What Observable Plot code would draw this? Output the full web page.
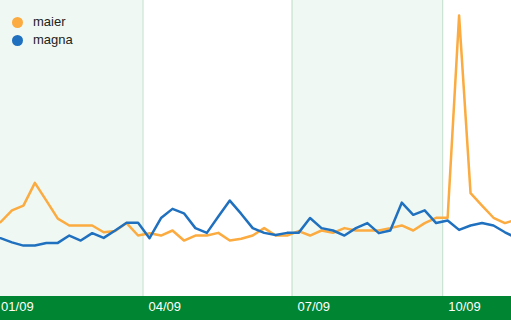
<!DOCTYPE html>
<html>
<head>
<meta charset="utf-8">
<script src="https://cdn.jsdelivr.net/npm/d3@7"></script>
<script src="https://cdn.jsdelivr.net/npm/@observablehq/plot@0.6"></script>
<style>
  html, body { margin: 0; padding: 0; background: #fff; }
  #wrap { position: relative; width: 511px; height: 320px; font-family: "Liberation Sans", Arial, sans-serif;
          background: linear-gradient(to bottom, #ffffff 0px, #ffffff 296px, #008533 296px, #008533 320px); }
  #wrap svg { display: block; }
  #legend { position: absolute; left: 12px; top: 13px; font-size: 13px; color: #222; line-height: 18px; }
  #legend .item { display: flex; align-items: center; }
  #legend .sw { width: 11px; height: 11px; border-radius: 50%; margin-right: 10px; }
</style>
</head>
<body>
<div id="wrap"><div id="legend"></div></div>
<script>
// Series names and colours
const seriesNames = ["maier", "magna"];
const seriesColors = ["#fbab3f", "#1f70bf"];

// Weekly data, first week
const firstWeek = "2009-01-04";
const maier = [25.1, 29.1, 30.7, 38.4, 32.4, 26.3, 24.0, 24.0, 24.0, 21.7,
               22.1, 24.8, 20.6, 21.4, 20.6, 22.3, 18.9, 20.6, 20.6, 21.5,
               18.9, 19.5, 20.6, 23.1, 20.6, 20.6, 22.1, 20.6, 22.3, 21.5,
               23.1, 22.3, 22.3, 22.3, 23.1, 24.0, 22.3, 24.8, 26.6, 26.6,
               94.9, 34.9, 30.7, 26.6, 24.8, 26.0];
const magna = [19.7, 18.3, 17.2, 17.2, 18.1, 18.1, 20.6, 18.9, 21.4, 19.8,
               22.3, 24.9, 24.9, 19.7, 26.5, 29.6, 28.1, 23.1, 21.5, 27.0,
               32.4, 27.9, 23.1, 21.5, 20.8, 21.5, 21.5, 26.5, 23.1, 22.3,
               20.6, 23.1, 24.8, 21.4, 22.3, 31.7, 27.6, 29.1, 24.8, 25.7,
               22.5, 24.0, 24.8, 24.0, 21.7, 19.8];

// Axis tick labels (quarters) and the end of the visible period
const tickDates = ["2009-01-01", "2009-04-01", "2009-07-01", "2009-10-01"];
const viewEnd = "2009-11-12";
const bandPairs = [["2008-12-20", "2009-04-01"], ["2009-07-01", "2009-10-01"]];

const parse = d3.utcParse("%Y-%m-%d");
const start = parse(firstWeek);
const weeks = maier.map((_, i) => d3.utcWeek.offset(start, i));
const rows = [];
weeks.forEach((d, i) => rows.push({date: d, value: maier[i], series: seriesNames[0]}));
weeks.forEach((d, i) => rows.push({date: d, value: magna[i], series: seriesNames[1]}));
const ticks = tickDates.map(parse);
const bands = bandPairs.map(([a, b]) => ({x1: parse(a), x2: parse(b)}));

const chart = Plot.plot({
  width: 511,
  height: 320,
  marginTop: 0, marginLeft: 0, marginRight: 0, marginBottom: 24,
  x: {type: "utc", domain: [start, parse(viewEnd)]},
  y: {domain: [0, 100], axis: null},
  color: {domain: seriesNames, range: seriesColors},
  style: {background: "transparent", fontFamily: "'Liberation Sans', Arial, sans-serif", overflow: "hidden"},
  marks: [
    Plot.rect(bands, {x1: "x1", x2: "x2", fill: "#eff8f3", clip: true}),
    Plot.ruleX(ticks.slice(1), {stroke: "#bfdec9", strokeWidth: 1}),
    Plot.lineY(rows.filter(d => d.series === "maier"), {x: "date", y: "value", stroke: "series", strokeWidth: 2.5, clip: true}),
    Plot.lineY(rows.filter(d => d.series === "magna"), {x: "date", y: "value", stroke: "series", strokeWidth: 2.5, clip: true}),
    Plot.axisX(ticks, {tickSize: 0, tickPadding: 5, tickFormat: d3.utcFormat("%m/%y"), textAnchor: "start", dx: 5.5, fill: "white", fontSize: 13, label: null})
  ]
});
const wrap = document.getElementById("wrap");
wrap.insertBefore(chart, wrap.firstChild);

const legend = document.getElementById("legend");
seriesNames.forEach((name, i) => {
  const item = document.createElement("div");
  item.className = "item";
  const sw = document.createElement("span");
  sw.className = "sw";
  sw.style.background = seriesColors[i];
  const t = document.createElement("span");
  t.textContent = name;
  item.appendChild(sw);
  item.appendChild(t);
  legend.appendChild(item);
});
</script>
</body>
</html>
